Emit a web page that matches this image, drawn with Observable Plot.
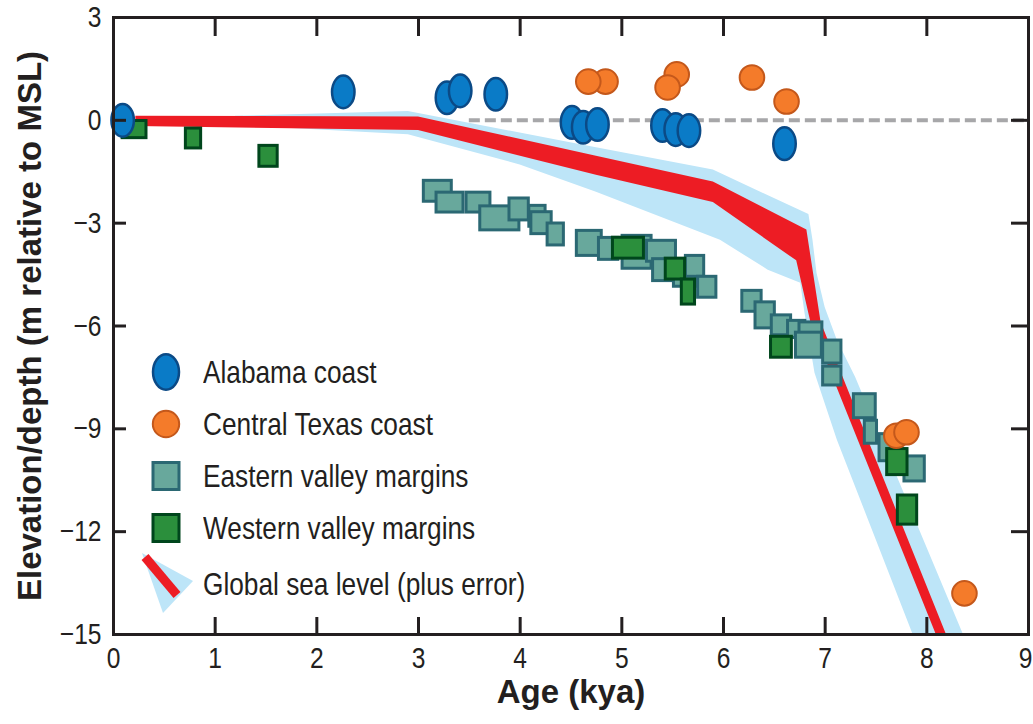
<!DOCTYPE html>
<html><head><meta charset="utf-8">
<script src="https://cdn.jsdelivr.net/npm/d3@7"></script>
<script src="https://cdn.jsdelivr.net/npm/@observablehq/plot@0.6"></script>
<style>
body{margin:0;background:#fff;}
#wrap{position:relative;width:1033px;height:724px;overflow:hidden;}
#legend{position:absolute;left:140px;top:346px;font-family:"Liberation Sans",Arial,sans-serif;font-size:32px;color:#231f20;}
.row{display:flex;align-items:center;height:52px;}
.icon{width:52px;height:52px;flex:none;overflow:visible;}
.row span{margin-left:11px;white-space:nowrap;display:inline-block;transform:scaleX(0.82);transform-origin:left center;}
</style></head><body><div id="wrap"></div>
<script>
// ---- data ----
const ageTicks = [0,1,2,3,4,5,6,7,8,9];
const depthTicks = [-15,-12,-9,-6,-3,0,3];
const xTitle = "Age (kya)";
const yTitle = "Elevation/depth (m relative to MSL)";
const legendLabels = ["Alabama coast","Central Texas coast","Eastern valley margins","Western valley margins","Global sea level (plus error)"];

// Alabama coast (age kya, elevation m)
const alabamaAge = [0.09,2.26,3.28,3.41,3.76,4.51,4.62,4.76,5.40,5.53,5.66,6.60];
const alabamaElev = [0.0,0.83,0.66,0.86,0.76,-0.06,-0.20,-0.12,-0.15,-0.27,-0.30,-0.68];

// Central Texas coast
const texasAge = [4.84,4.67,5.54,5.45,6.28,6.62,7.70,7.80,8.37];
const texasElev = [1.13,1.13,1.34,0.96,1.25,0.55,-9.2,-9.1,-13.8];

// Eastern valley margins (centre age, centre depth, age span kya, depth span m)
const eastAge   = [3.19,3.31,3.59,3.80,3.99,4.17,4.21,4.35,4.68,4.87,5.15,5.39,5.42,5.62,5.72,5.84,6.28,6.41,6.57,6.72,6.86,6.84,7.07,7.07,7.39,7.45,7.63,7.88];
const eastDepth = [-2.07,-2.40,-2.40,-2.86,-2.60,-2.80,-3.00,-3.33,-3.59,-3.75,-3.85,-3.82,-4.37,-4.55,-4.26,-4.87,-5.28,-5.69,-5.98,-6.10,-6.20,-6.56,-6.76,-7.46,-8.34,-9.10,-9.55,-10.17];
const eastAgeSpan   = [0.275,0.265,0.235,0.385,0.19,0.16,0.20,0.16,0.245,0.19,0.285,0.285,0.225,0.215,0.18,0.18,0.19,0.19,0.19,0.17,0.225,0.255,0.18,0.18,0.215,0.12,0.19,0.20];
const eastDepthSpan = [0.61,0.58,0.58,0.70,0.64,0.61,0.64,0.64,0.73,0.64,0.96,0.61,0.64,0.61,0.61,0.61,0.61,0.76,0.58,0.50,0.61,0.73,0.67,0.55,0.70,0.67,0.79,0.73];

// Western valley margins
const westAge   = [0.207,0.787,1.525,5.065,5.527,5.655,6.57,7.71,7.81];
const westDepth = [-0.27,-0.53,-1.05,-3.73,-4.34,-5.01,-6.62,-9.97,-11.37];
const westAgeSpan   = [0.235,0.15,0.18,0.305,0.19,0.13,0.205,0.20,0.19];
const westDepthSpan = [0.50,0.58,0.61,0.61,0.61,0.73,0.61,0.76,0.85];

// Global sea level curve: upper/right and lower/left edges of the central band
const seaTopAge = [0.22,3.0,4.75,5.9,6.82,6.96,8.26];
const seaTopElev = [0.12,0.10,-1.05,-1.8,-3.2,-5.9,-15.5];
const seaBotAge = [0.22,3.0,4.75,5.9,6.72,6.86,8.16];
const seaBotElev = [-0.18,-0.30,-1.6,-2.4,-4.1,-5.9,-15.5];
// error envelope edges
const errTopAge = [1.2,2.9,4.75,5.9,6.84,6.88,6.92,7.0,7.12,7.3,8.43];
const errTopElev = [0.12,0.26,-0.8,-1.45,-2.75,-3.5,-4.47,-5.46,-6.42,-7.5,-15.5];
const errBotAge = [1.2,2.9,4.0,4.75,5.97,6.44,6.76,6.8,6.9,7.12,7.93];
const errBotElev = [-0.15,-0.42,-1.3,-2.1,-3.5,-4.37,-4.75,-5.6,-7.38,-9.33,-15.5];

// modern sea level reference line
const mslAges = [3.5, 9];

// ---- build tables ----
const pair = (ax, ay, bx, by) => ax.map((_, i) => ({tx: ax[i], ty: ay[i], bx: bx[i], by: by[i]}));
const redRows = pair(seaTopAge, seaTopElev, seaBotAge, seaBotElev);
const blueRows = pair(errTopAge, errTopElev, errBotAge, errBotElev);
const alabama = alabamaAge.map((a, i) => ({age: a, elev: alabamaElev[i]}));
const texas = texasAge.map((a, i) => ({age: a, elev: texasElev[i]}));
const eastern = eastAge.map((a, i) => ({age: a, depth: eastDepth[i], w: eastAgeSpan[i], h: eastDepthSpan[i]}));
const western = westAge.map((a, i) => ({age: a, depth: westDepth[i], w: westAgeSpan[i], h: westDepthSpan[i]}));

const ellipse = {
  draw(ctx, size) {
    const ry = Math.sqrt(size / Math.PI), rx = ry * 0.69, k = 0.5523;
    ctx.moveTo(rx, 0);
    ctx.bezierCurveTo(rx, k * ry, k * rx, ry, 0, ry);
    ctx.bezierCurveTo(-k * rx, ry, -rx, k * ry, -rx, 0);
    ctx.bezierCurveTo(-rx, -k * ry, -k * rx, -ry, 0, -ry);
    ctx.bezierCurveTo(k * rx, -ry, rx, -k * ry, rx, 0);
    ctx.closePath();
  }
};

const W = 1033, H = 724, mL = 113, mR = 5, mT = 17, mB = 90;
const innerW = W - mL - mR, innerH = H - mT - mB;
const ink = "#231f20";
const sans = '"Liberation Sans",Arial,sans-serif';

const chart = Plot.plot({
  width: W, height: H,
  marginLeft: mL, marginRight: mR, marginTop: mT, marginBottom: mB,
  style: {fontFamily: sans, fontSize: "30px", color: ink, background: "#fff", overflow: "visible"},
  x: {domain: [0, 9], label: null},
  y: {domain: [-15, 3], label: null},
  marks: [
    Plot.area(blueRows, {x1: "tx", y1: "ty", x2: "bx", y2: "by", fill: "#bde5f8", clip: "frame"}),
    Plot.area(redRows, {x1: "tx", y1: "ty", x2: "bx", y2: "by", fill: "#ed1c24", clip: "frame"}),
    Plot.ruleY([0], {x1: mslAges[0], x2: mslAges[1], stroke: "#a7a7a9", strokeWidth: 4, strokeDasharray: "11 5"}),
    Plot.rect(eastern, {x1: d => d.age - d.w / 2, x2: d => d.age + d.w / 2, y1: d => d.depth - d.h / 2, y2: d => d.depth + d.h / 2,
      fill: "#68a89c", stroke: "#2b6873", strokeWidth: 3}),
    Plot.rect(western, {x1: d => d.age - d.w / 2, x2: d => d.age + d.w / 2, y1: d => d.depth - d.h / 2, y2: d => d.depth + d.h / 2,
      fill: "#2b8f3c", stroke: "#00461c", strokeWidth: 3}),
    Plot.dot(alabama, {x: "age", y: "elev", symbol: ellipse, r: 16.3, fill: "#0a7bc7", stroke: "#0b4a86", strokeWidth: 2.5}),
    Plot.dot(texas, {x: "age", y: "elev", symbol: "circle", r: 12.3, fill: "#f47b2a", stroke: "#c4581b", strokeWidth: 2}),
    Plot.tickX(ageTicks, {x: d => d, insetTop: innerH - 17, stroke: ink, strokeWidth: 3}),
    Plot.tickX(ageTicks, {x: d => d, insetBottom: innerH - 19, stroke: ink, strokeWidth: 3}),
    Plot.tickY(depthTicks, {y: d => d, insetRight: innerW - 13, stroke: ink, strokeWidth: 3}),
    Plot.tickY(depthTicks, {y: d => d, insetLeft: innerW - 17, stroke: ink, strokeWidth: 3}),
    Plot.axisX({ticks: ageTicks, tickSize: 0, tickPadding: 12, label: null}),
    Plot.axisY({ticks: depthTicks, tickSize: 0, tickPadding: 12, label: null}),
    Plot.frame({stroke: ink, strokeWidth: 3}),
    Plot.text([xTitle], {text: d => d, frameAnchor: "bottom", dy: 68, fontWeight: "bold", fontSize: 33}),
    Plot.text([yTitle], {text: d => d, frameAnchor: "left", textAnchor: "middle", dx: -83, rotate: -90, fontWeight: "bold", fontSize: 33})
  ]
});

// condense tick labels horizontally (narrow typeface look); keep the last x label inside the page
d3.select(chart).selectAll('g[aria-label$="tick label"] text').each(function () {
  const t = this.getAttribute("transform") || "";
  this.setAttribute("transform", t + " scale(0.82,1)");
});
const xLabels = d3.select(chart).selectAll('g[aria-label="x-axis tick label"] text').nodes();
if (xLabels.length) {
  const last = xLabels[xLabels.length - 1];
  last.setAttribute("transform", "translate(-3,0) " + last.getAttribute("transform"));
}

const wrap = document.getElementById("wrap");
wrap.appendChild(chart);

// legend
const icons = [
  '<svg class="icon" viewBox="0 0 52 52"><ellipse cx="26" cy="26" rx="13" ry="17.8" fill="#0a7bc7" stroke="#0b4a86" stroke-width="2.5"/></svg>',
  '<svg class="icon" viewBox="0 0 52 52"><circle cx="26" cy="26" r="13.2" fill="#f47b2a" stroke="#c4581b" stroke-width="2"/></svg>',
  '<svg class="icon" viewBox="0 0 52 52"><rect x="13" y="12.5" width="26" height="27" fill="#68a89c" stroke="#2b6873" stroke-width="3"/></svg>',
  '<svg class="icon" viewBox="0 0 52 52"><rect x="13" y="12.5" width="26" height="27" fill="#2b8f3c" stroke="#00461c" stroke-width="3"/></svg>',
  '<svg class="icon" viewBox="0 0 52 52" style="overflow:visible"><polygon points="2,-5 53,23 23,55" fill="#bde5f8"/><line x1="5" y1="-1" x2="37" y2="37" stroke="#ed1c24" stroke-width="9"/></svg>'
];
const legend = document.createElement("div");
legend.id = "legend";
legend.innerHTML = legendLabels.map((t, i) =>
  `<div class="row"${i === 4 ? ' style="margin-top:4px"' : ''}>${icons[i]}<span>${t}</span></div>`).join("");
wrap.appendChild(legend);
</script>
</body></html>
